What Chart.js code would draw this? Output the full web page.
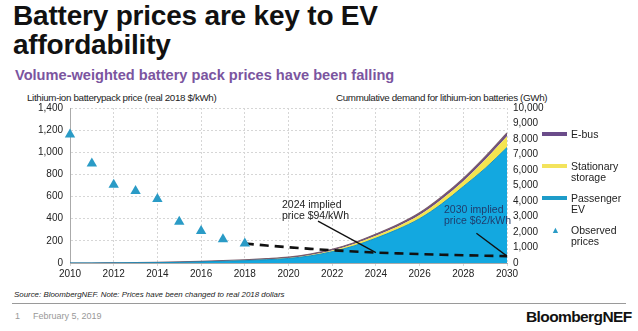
<!DOCTYPE html>
<html>
<head>
<meta charset="utf-8">
<script src="https://cdn.jsdelivr.net/npm/chart.js@4/dist/chart.umd.min.js"></script>
<style>
	body{margin:0;background:#fff;font-family:"Liberation Sans",Arial,sans-serif;}
	#page{position:relative;width:638px;height:331px;overflow:hidden;}
	.abs{position:absolute;white-space:nowrap;}
	#title{left:13px;top:1px;font-size:28px;font-weight:bold;line-height:29px;color:#111;letter-spacing:-0.2px;}
	#subtitle{left:15px;top:67px;font-size:14.6px;font-weight:bold;color:#7b559f;}
	.axt{top:92px;font-size:9.8px;color:#222;letter-spacing:-0.35px;}
	.leg{font-size:10.5px;color:#222;line-height:11px;}
	.bar{position:absolute;width:25px;height:4px;}
	.ann{font-size:10.5px;line-height:11px;}
	#source{left:14px;top:290px;font-size:7.9px;font-style:italic;color:#222;}
	#rule{left:12px;top:303px;width:614px;height:1px;background:#9a9a9a;}
	#pg{left:15px;top:311px;font-size:9px;color:#999;}
	#date{left:33px;top:311px;font-size:9px;color:#999;}
	#brand{left:526px;top:308px;font-size:15.5px;font-weight:bold;color:#111;letter-spacing:-0.6px;}
	#wrap{position:absolute;left:0;top:95px;width:560px;height:190px;}
</style>
</head>
<body>
<div id="page">
	<div id="title" class="abs">Battery prices are key to EV<br>affordability</div>
	<div id="subtitle" class="abs">Volume-weighted battery pack prices have been falling</div>
	<div class="abs axt" style="left:27px;">Lithium-ion batterypack price (real 2018 $/kWh)</div>
	<div class="abs axt" style="left:336px;">Cummulative demand for lithium-ion batteries (GWh)</div>
	<div id="wrap"><canvas id="chart"></canvas></div>

	<div class="bar" style="left:542px;top:132px;background:#6b4c8a;"></div>
	<div class="abs leg" style="left:571px;top:129px;">E-bus</div>
	<div class="bar" style="left:542px;top:164px;background:#f3e35c;"></div>
	<div class="abs leg" style="left:571px;top:161px;">Stationary<br>storage</div>
	<div class="bar" style="left:542px;top:196px;background:#1e9cc9;"></div>
	<div class="abs leg" style="left:571px;top:193px;">Passenger<br>EV</div>
	<div class="abs leg" style="left:551px;top:225px;color:#2a9bc6;font-size:9px;">&#9650;</div>
	<div class="abs leg" style="left:571px;top:225px;">Observed<br>prices</div>

	<div class="abs ann" style="left:282px;top:199px;color:#222;">2024 implied<br>price $94/kWh</div>
	<div class="abs ann" style="left:444px;top:204px;color:#1f3d6e;">2030 implied<br>price $62/kWh</div>

	<div id="source" class="abs">Source: BloombergNEF. Note: Prices have been changed to real 2018 dollars</div>
	<div id="rule" class="abs"></div>
	<div id="pg" class="abs">1</div>
	<div id="date" class="abs">February 5, 2019</div>
	<div id="brand" class="abs">BloombergNEF</div>
</div>
<script>
// observed pack prices (real 2018 $/kWh)
var priceYears = [2010, 2011, 2012, 2013, 2014, 2015, 2016, 2017, 2018];
var observedPrices = [1160, 899, 707, 650, 577, 373, 288, 214, 176];

// implied price path
var outlookYears = [2018, 2019, 2020, 2021, 2022, 2023, 2024, 2025, 2026, 2027, 2028, 2029, 2030];
var impliedPrices = [176, 158, 142, 128, 115, 104, 94, 87, 81, 75, 70, 66, 62];

// cumulative demand (GWh), stacked
var demandYears = [2010, 2011, 2012, 2013, 2014, 2015, 2016, 2017, 2018, 2019, 2020, 2021, 2022, 2023, 2024, 2025, 2026, 2027, 2028, 2029, 2030];
var passengerEV = [0, 0, 5, 10, 20, 40, 70, 110, 150, 210, 290, 460, 730, 1100, 1600, 2170, 2860, 3800, 4930, 6100, 7450];
var stationary = [0, 0, 0, 0, 0, 0, 0, 5, 10, 15, 25, 50, 80, 120, 160, 190, 240, 300, 350, 560, 720];
var eBus = [0, 0, 5, 10, 20, 30, 40, 45, 50, 55, 60, 65, 75, 90, 105, 120, 140, 160, 180, 200, 220];

var xTicks = {min: 2010, max: 2030, step: 2};

function pts(xs, ys){
	var out = [];
	for(var i=0; i<xs.length; i++){
		out.push({x: xs[i], y: ys[i]});
	}
	return out;
}

// pointer lines for the two text notes, in data units
var pointers = [
	{from: [2021.35, 378], to: [2024, 94]},
	{from: [2028.6, 268], to: [2030, 62]}
];

var pointerPlugin = {
	id: "pointers",
	afterDatasetsDraw: function(chart){
		var ctx = chart.ctx, sx = chart.scales.x, sy = chart.scales.y;
		ctx.save();
		ctx.strokeStyle = "#111";
		ctx.lineWidth = 1.3;
		pointers.forEach(function(p){
			ctx.beginPath();
			ctx.moveTo(sx.getPixelForValue(p.from[0]), sy.getPixelForValue(p.from[1]));
			ctx.lineTo(sx.getPixelForValue(p.to[0]), sy.getPixelForValue(p.to[1]));
			ctx.stroke();
		});
		ctx.restore();
	}
};

var tickFont = {family: "'Liberation Sans', Arial, sans-serif", size: 10};
var gridColor = "#d6d6d6";

new Chart(document.getElementById("chart"), {
	type: "line",
	data: {
		datasets: [
			{
				label: "Observed prices",
				data: pts(priceYears, observedPrices),
				yAxisID: "y",
				showLine: false,
				clip: false,
				pointStyle: "triangle",
				pointRadius: 6,
				pointBackgroundColor: "#2a9bc6",
				pointBorderWidth: 0
			},
			{
				label: "Implied",
				data: pts(outlookYears, impliedPrices),
				yAxisID: "y",
				borderColor: "#111",
				borderWidth: 2.6,
				borderDash: [9, 6],
				pointRadius: 0,
				fill: false
			},
			{
				label: "Passenger EV",
				data: pts(demandYears, passengerEV),
				yAxisID: "y2",
				backgroundColor: "#13a8e0",
				borderColor: "#1592c2",
				borderWidth: 1,
				pointRadius: 0,
				cubicInterpolationMode: "monotone",
				fill: "origin"
			},
			{
				label: "Stationary storage",
				data: pts(demandYears, stationary),
				yAxisID: "y2",
				backgroundColor: "#f4e450",
				borderWidth: 0,
				pointRadius: 0,
				cubicInterpolationMode: "monotone",
				fill: "-1"
			},
			{
				label: "E-bus",
				data: pts(demandYears, eBus),
				yAxisID: "y2",
				backgroundColor: "#6b4c8a",
				borderColor: "#7a5d6a",
				borderWidth: 1.2,
				pointRadius: 0,
				cubicInterpolationMode: "monotone",
				fill: "-1"
			}
		]
	},
	options: {
		responsive: true,
		maintainAspectRatio: false,
		animation: false,
		layout: {padding: {top: 11, left: 0, right: 0, bottom: 0}},
		plugins: {legend: {display: false}, tooltip: {enabled: false}},
		scales: {
			x: {
				type: "linear",
				min: xTicks.min,
				max: xTicks.max,
				ticks: {stepSize: xTicks.step, font: tickFont, color: "#222", padding: 2, maxRotation: 0,
					callback: function(v){ return String(v); }},
				grid: {color: gridColor, tickLength: 3},
				border: {color: "#aaa", dash: [2, 2]},
				afterFit: function(s){ s.height = 22; }
			},
			y: {
				position: "left",
				min: 0,
				max: 1400,
				ticks: {stepSize: 200, font: tickFont, color: "#222", padding: 7,
					callback: function(v){ return v.toLocaleString("en-US"); }},
				grid: {color: gridColor, drawTicks: false},
				border: {color: "#aaa", dash: [2, 2]},
				afterFit: function(s){ s.width = 70; }
			},
			y2: {
				position: "right",
				stacked: true,
				min: 0,
				max: 10000,
				ticks: {stepSize: 1000, font: tickFont, color: "#222", padding: 6,
					callback: function(v){ return v.toLocaleString("en-US"); }},
				grid: {display: false, drawTicks: false},
				border: {display: false},
				afterFit: function(s){ s.width = 53; }
			}
		}
	},
	plugins: [pointerPlugin]
});
</script>
</body>
</html>
